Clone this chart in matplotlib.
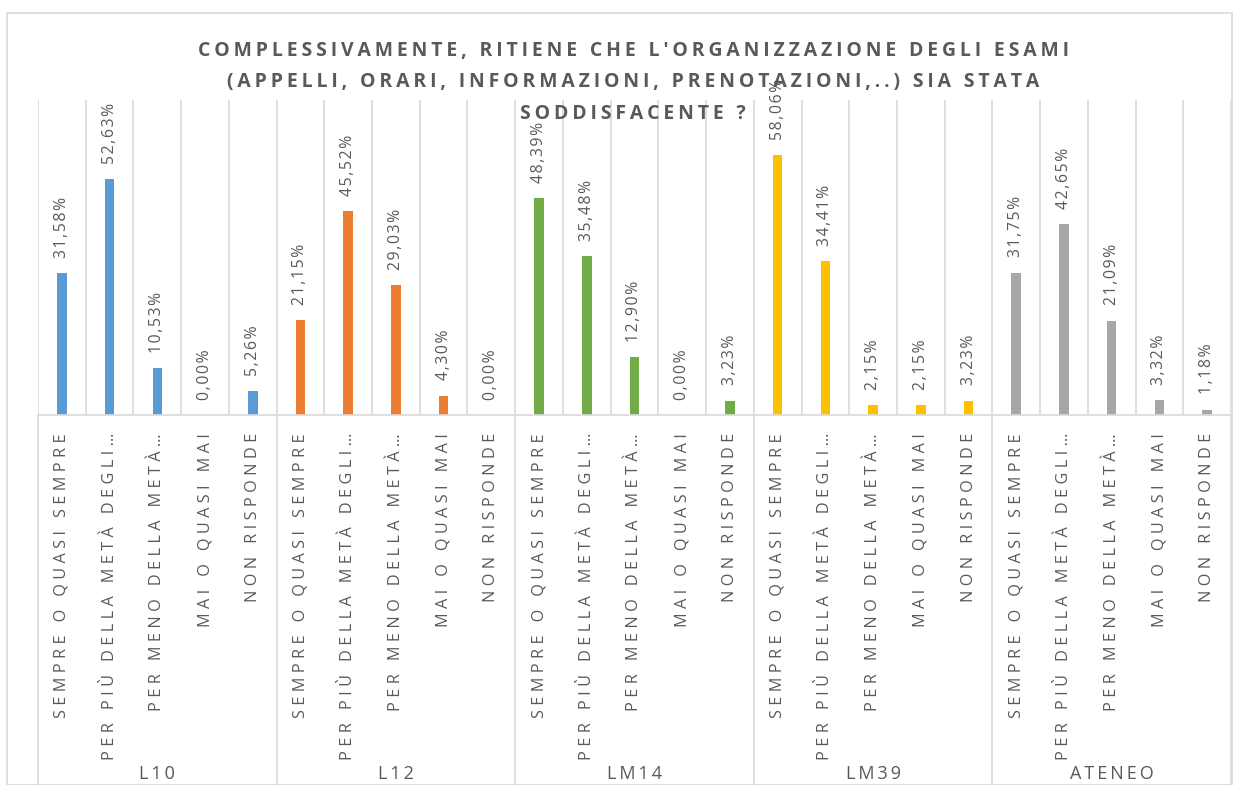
import matplotlib
matplotlib.use("Agg")
import matplotlib.pyplot as plt
from matplotlib.transforms import blended_transform_factory
from matplotlib.patches import Rectangle
from matplotlib.lines import Line2D

plt.rcParams['font.family'] = ['Open Sans', 'DejaVu Sans']

groups = ["L10", "L12", "LM14", "LM39", "ATENEO"]
categories = ["SEMPRE O QUASI SEMPRE", "PER PIÙ DELLA METÀ DEGLI…", "PER MENO DELLA METÀ…",
              "MAI O QUASI MAI", "NON RISPONDE"]
values = {
    "L10":    [31.58, 52.63, 10.53, 0.00, 5.26],
    "L12":    [21.15, 45.52, 29.03, 4.30, 0.00],
    "LM14":   [48.39, 35.48, 12.90, 0.00, 3.23],
    "LM39":   [58.06, 34.41, 2.15, 2.15, 3.23],
    "ATENEO": [31.75, 42.65, 21.09, 3.32, 1.18],
}
colors = ["#5B9BD5", "#ED7D31", "#70AD47", "#FFC000", "#A9A6A6"]
title = ("COMPLESSIVAMENTE, RITIENE CHE L'ORGANIZZAZIONE DEGLI ESAMI\n"
         "(APPELLI, ORARI, INFORMAZIONI, PRENOTAZIONI,..) SIA STATA\n"
         "SODDISFACENTE ?")

TXT = "#595959"
GRID = "#D9D9D9"
W, H = 1239, 785


def spaced(s, sep="\u2009"):
    return "\n".join(sep.join(list(line)) for line in s.split("\n"))


fig = plt.figure(figsize=(W / 100, H / 100), dpi=100)
fig.patches.append(Rectangle((7 / W, 0), (1232 - 7) / W, (H - 13) / H, transform=fig.transFigure,
                             fill=False, edgecolor=GRID, lw=1.2, zorder=0))

ax = fig.add_axes([38 / W, (H - 415) / H, (1231 - 38) / W, (415 - 100) / H])
ax.set_xlim(-0.5, 24.5)
ax.set_ylim(0, 70.3)
for s in ["top", "left", "right"]:
    ax.spines[s].set_visible(False)
ax.spines["bottom"].set_color(GRID)
ax.spines["bottom"].set_linewidth(1.2)
ax.set_yticks([])
ax.set_xticks([])
ax.patch.set_alpha(0)

for b in range(26):
    ax.axvline(b - 0.5, color=GRID, lw=1.2, zorder=0)

trans = blended_transform_factory(ax.transData, ax.transAxes)
depth = (H - 415) / (415 - 100)
for g in range(6):
    ax.add_line(Line2D([g * 5 - 0.5, g * 5 - 0.5], [0, -depth - 0.05], transform=trans,
                       color=GRID, lw=1.2, clip_on=False))

for gi, g in enumerate(groups):
    vals = values[g]
    for k, v in enumerate(vals):
        x = gi * 5 + k
        ax.bar(x, v, width=0.2, color=colors[gi], zorder=2)
        ax.annotate(spaced(f"{v:.2f}%".replace(".", ","), "\u200A"), (x, v), xytext=(0, 11),
                    textcoords="offset points", rotation=90, ha="center", va="bottom",
                    fontsize=11.3, color=TXT, zorder=3)
        ax.text(x, (415 - 433) / 315, spaced(categories[k], "\u2009\u200A"), transform=trans,
                rotation=90, ha="center", va="top", fontsize=11.7, color=TXT)
    ax.text(gi * 5 + 2, (415 - 774) / 315, spaced(g, "\u2009"), transform=trans, ha="center",
            va="center", fontsize=13, color=TXT)

fig.text(633 / W, 1 - 41 / H, spaced(title), ha="center", va="top", fontsize=13.95, fontweight="bold",
         color=TXT, linespacing=1.76)

fig.savefig("out.png", dpi=100)
